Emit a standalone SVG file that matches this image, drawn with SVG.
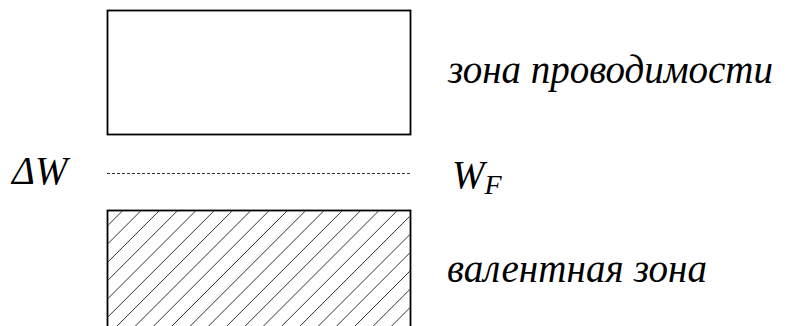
<svg xmlns="http://www.w3.org/2000/svg" width="790" height="326" viewBox="0 0 790 326">
<style>
.box{fill:#fff;stroke:#000;stroke-width:1.8}
.hatch{stroke:#333;stroke-width:1;fill:none}
.lbl{font-family:"Liberation Serif","Times New Roman",serif;font-style:italic;font-size:39px;fill:#000}
.dash{stroke:#333;stroke-width:1;stroke-dasharray:3 2;fill:none}
</style>
<defs>
<clipPath id="vclip"><rect x="108" y="211" width="302" height="120"/></clipPath>
</defs>
<g id="conduction-band">
<rect class="box" x="107.5" y="10.5" width="303" height="124"/>
<text class="lbl" x="448" y="83" textLength="325">зона проводимости</text>
</g>
<g id="fermi-level">
<line class="dash" x1="107" y1="173.5" x2="412" y2="173.5"/>
<text class="lbl" x="12" y="184" font-size="41px">ΔW</text>
<text class="lbl" x="452" y="188" font-size="42px">W<tspan font-size="28px" dy="6">F</tspan></text>
</g>
<g id="valence-band">
<rect class="box" x="107.5" y="210.5" width="303" height="130"/>
<g clip-path="url(#vclip)">
<path class="hatch" d="M123.3 210l-140 140M141.6 210l-140 140M159.9 210l-140 140M178.2 210l-140 140M196.5 210l-140 140M214.8 210l-140 140M233.1 210l-140 140M251.4 210l-140 140M269.7 210l-140 140M288 210l-140 140M306.3 210l-140 140M324.6 210l-140 140M342.9 210l-140 140M361.2 210l-140 140M379.5 210l-140 140M397.8 210l-140 140M416.1 210l-140 140M434.4 210l-140 140M452.7 210l-140 140M471 210l-140 140M489.3 210l-140 140M507.6 210l-140 140M525.9 210l-140 140"/>
</g>
<text class="lbl" x="447" y="282" textLength="260">валентная зона</text>
</g>
<g id="connectors"/>
</svg>
